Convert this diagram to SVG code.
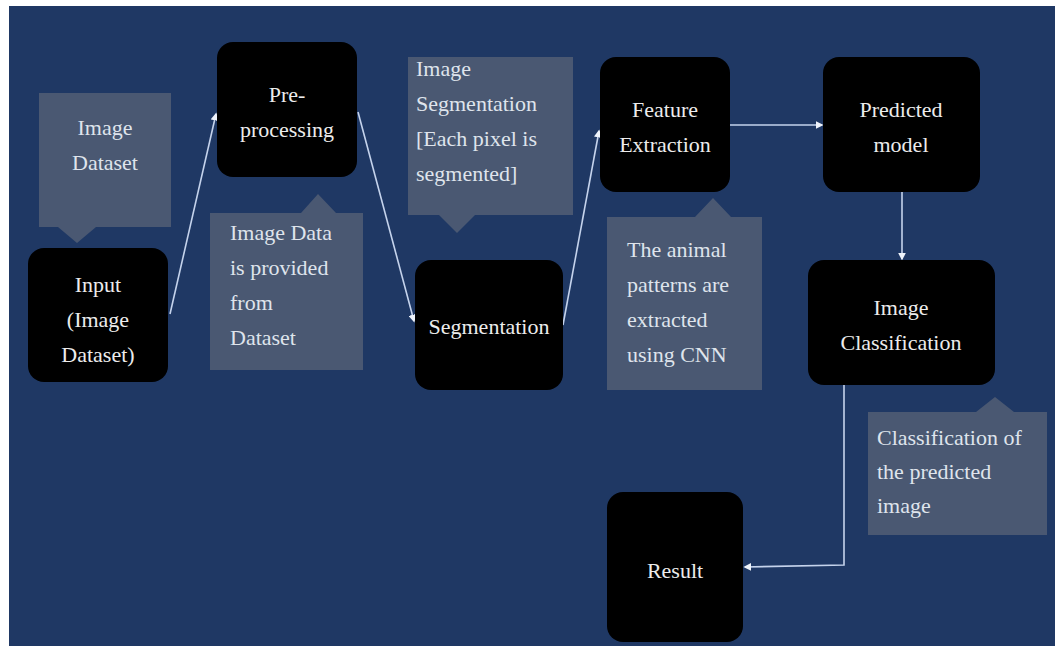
<svg xmlns="http://www.w3.org/2000/svg" width="1055" height="646" viewBox="0 0 1055 646">
  <defs>
    <style>
      .bg { fill: #1f3864; }
      .node { fill: #000000; }
      .note { fill: #4a5872; }
      text { font-family: 'Liberation Serif', 'DejaVu Serif', serif; font-size: 22px; }
      .lbl { fill: #ececec; }
      .c { text-anchor: middle; }
      .ntxt { fill: #dfe4ec; }
      .edge { fill: none; stroke: #c5d3ec; stroke-width: 1.6; marker-end: url(#tip); }
    </style>
    <marker id="tip" viewBox="0 0 10 10" refX="8" refY="5" markerWidth="5" markerHeight="5" orient="auto">
      <path d="M0,0 L10,5 L0,10 Z" fill="#eef3fb"/>
    </marker>
  </defs>

  <!-- page -->
  <rect x="0" y="0" width="1055" height="646" fill="#ffffff"/>
  <rect class="bg" x="9" y="6" width="1046" height="640"/>

  <!-- connectors -->
  <g id="connectors">
    <path class="edge" d="M170,314 L216,114"/>
    <path class="edge" d="M358,112 L414,321"/>
    <path class="edge" d="M563,325 L599,131"/>
    <path class="edge" d="M730,125 L822,125"/>
    <path class="edge" d="M902,192 L902,259"/>
    <path class="edge" d="M844,385 L844,565 L745,567"/>
  </g>

  <!-- callout notes -->
  <g id="note-dataset">
    <path class="note" d="M39,93 H171 V227 H96 L77,243 L58,227 H39 Z"/>
    <text class="ntxt c" x="105" y="135" font-family="Liberation Serif, serif">Image</text>
    <text class="ntxt c" x="105" y="170" font-family="Liberation Serif, serif">Dataset</text>
  </g>
  <g id="note-imagedata">
    <path class="note" d="M210,213 H301 L318,194 L336,213 H363 V370 H210 Z"/>
    <text class="ntxt" x="230" y="240">Image Data</text>
    <text class="ntxt" x="230" y="275">is provided</text>
    <text class="ntxt" x="230" y="310">from</text>
    <text class="ntxt" x="230" y="345">Dataset</text>
  </g>
  <g id="note-segmentation">
    <path class="note" d="M408,57 H573 V215 H475 L457,233 L439,215 H408 Z"/>
    <text class="ntxt" x="416" y="76">Image</text>
    <text class="ntxt" x="416" y="111">Segmentation</text>
    <text class="ntxt" x="416" y="146">[Each pixel is</text>
    <text class="ntxt" x="416" y="181">segmented]</text>
  </g>
  <g id="note-cnn">
    <path class="note" d="M607,217 H695 L713,198 L731,217 H762 V390 H607 Z"/>
    <text class="ntxt" x="627" y="257">The animal</text>
    <text class="ntxt" x="627" y="292">patterns are</text>
    <text class="ntxt" x="627" y="327">extracted</text>
    <text class="ntxt" x="627" y="362">using CNN</text>
  </g>
  <g id="note-classification">
    <path class="note" d="M868,412 H976 L995,397 L1014,412 H1047 V535 H868 Z"/>
    <text class="ntxt" x="877" y="445">Classification of</text>
    <text class="ntxt" x="877" y="479">the predicted</text>
    <text class="ntxt" x="877" y="513">image</text>
  </g>

  <!-- process nodes -->
  <g id="node-input">
    <rect class="node" x="28" y="248" width="140" height="134" rx="16"/>
    <text class="lbl c" x="98" y="292">Input</text>
    <text class="lbl c" x="98" y="327">(Image</text>
    <text class="lbl c" x="98" y="362">Dataset)</text>
  </g>
  <g id="node-preprocessing">
    <rect class="node" x="217" y="42" width="140" height="135" rx="16"/>
    <text class="lbl c" x="287" y="102">Pre-</text>
    <text class="lbl c" x="287" y="137">processing</text>
  </g>
  <g id="node-segmentation">
    <rect class="node" x="415" y="260" width="148" height="130" rx="16"/>
    <text class="lbl c" x="489" y="334">Segmentation</text>
  </g>
  <g id="node-feature">
    <rect class="node" x="600" y="57" width="130" height="135" rx="16"/>
    <text class="lbl c" x="665" y="117">Feature</text>
    <text class="lbl c" x="665" y="152">Extraction</text>
  </g>
  <g id="node-predicted">
    <rect class="node" x="823" y="57" width="157" height="135" rx="16"/>
    <text class="lbl c" x="901" y="117">Predicted</text>
    <text class="lbl c" x="901" y="152">model</text>
  </g>
  <g id="node-classification">
    <rect class="node" x="808" y="260" width="187" height="125" rx="16"/>
    <text class="lbl c" x="901" y="315">Image</text>
    <text class="lbl c" x="901" y="350">Classification</text>
  </g>
  <g id="node-result">
    <rect class="node" x="607" y="492" width="136" height="150" rx="16"/>
    <text class="lbl c" x="675" y="578">Result</text>
  </g>
</svg>
